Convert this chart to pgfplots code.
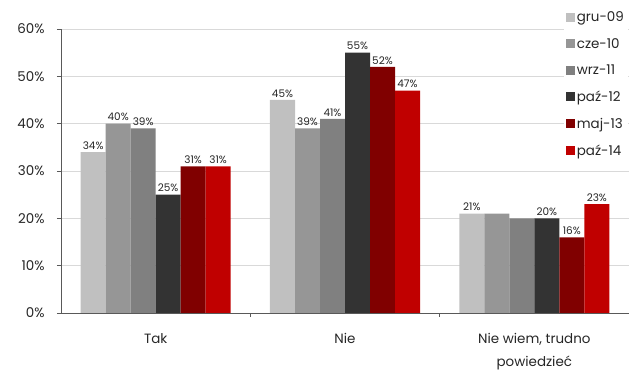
\documentclass[border=0pt]{standalone}
\usepackage{fontspec}
\setmainfont{Poppins}
\usepackage{pgfplots}
\pgfplotsset{compat=1.18}
\definecolor{c1}{HTML}{C0C0C0}
\definecolor{c2}{HTML}{969696}
\definecolor{c3}{HTML}{808080}
\definecolor{c4}{HTML}{333333}
\definecolor{c5}{HTML}{800000}
\definecolor{c6}{HTML}{C00000}
\definecolor{axcol}{HTML}{595959}
\definecolor{gridcol}{HTML}{D9D9D9}
\definecolor{txt}{HTML}{262626}
\begin{document}
\begin{tikzpicture}
\begin{axis}[name=ax, scale only axis, width=568bp, height=284bp,
  ybar=0pt, bar width=25bp,
  xmin=-0.5, xmax=2.5, ymin=0, ymax=60,
  axis x line=bottom, axis y line=left,
  axis line style={axcol, line width=0.8pt, -},
  tick align=outside, major tick length=4bp,
  tick style={axcol, line width=0.8pt},
  xtick={0.5,1.5}, xticklabels={},
  extra x ticks={0,1,2},
  extra x tick labels={Tak,Nie,{Nie wiem, trudno\\powiedzieć}},
  extra x tick style={major tick length=0pt, grid=none,
     tick label style={align=center, font=\fontsize{13.5}{22.5}\selectfont, text=txt, yshift=-17bp}},
  ytick={0,10,20,30,40,50,60},
  yticklabels={0\%,10\%,20\%,30\%,40\%,50\%,60\%},
  y tick label style={font=\fontsize{13.5}{14}\selectfont, text=txt, xshift=-9bp},
  ymajorgrids, grid style={gridcol, line width=0.8pt},
  point meta=explicit symbolic,
  nodes near coords={\pgfplotspointmeta},
  every node near coord/.append style={font=\fontsize{10.5}{12}\selectfont, text=txt, inner sep=2.5bp},
  every axis plot/.append style={draw=none,
    legend image code/.code={\fill[##1] (0bp,-4.5bp) rectangle (9bp,4.5bp);}},
  legend style={at={(0.885,1.075)}, anchor=north west, draw=none, fill=white,
    font=\fontsize{13.5}{15}\selectfont, text=txt, row sep=11bp, inner sep=2bp,
    legend cell align=left},
  clip=false,
]
\addplot[fill=c1] coordinates {(0,34)[34\%] (1,45)[45\%] (2,21)[21\%]};
\addplot[fill=c2] coordinates {(0,40)[40\%] (1,39)[39\%] (2,21)[{}]};
\addplot[fill=c3] coordinates {(0,39)[39\%] (1,41)[41\%] (2,20)[{}]};
\addplot[fill=c4] coordinates {(0,25)[25\%] (1,55)[55\%] (2,20)[20\%]};
\addplot[fill=c5] coordinates {(0,31)[31\%] (1,52)[52\%] (2,16)[16\%]};
\addplot[fill=c6] coordinates {(0,31)[31\%] (1,47)[47\%] (2,23)[23\%]};
\legend{gru-09,cze-10,wrz-11,paź-12,maj-13,paź-14}
\end{axis}
\pgfresetboundingbox
\path ([shift={(-61bp,-59bp)}]ax.south west) rectangle ([shift={(0bp,29bp)}]ax.north east);
\end{tikzpicture}
\end{document}
